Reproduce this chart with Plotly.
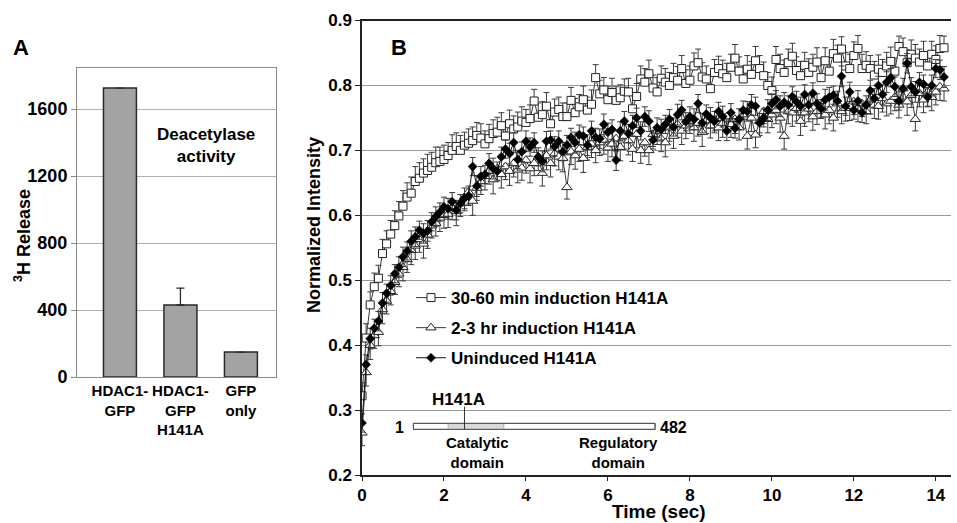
import plotly.graph_objects as go

# ---------------- Panel A data ----------------
bar_categories = ["HDAC1-<br>GFP", "HDAC1-<br>GFP<br>H141A", "GFP<br>only"]
bar_values = [1725, 430, 149]
bar_errors = [0, 101, 0]

# ---------------- Panel B data ----------------
frame_interval = 0.1  # seconds between frames

induced_30_60 = [
    .322, .411, .462, .490, .503, .541, .556, .571, .584, .599,
    .614, .628, .634, .652, .657, .665, .669, .674, .681, .683,
    .686, .692, .700, .706, .700, .708, .711, .715, .723, .719,
    .710, .718, .726, .728, .738, .722, .741, .733, .736, .745,
    .743, .749, .776, .751, .755, .768, .741, .759, .763, .752,
    .752, .777, .758, .767, .778, .762, .771, .812, .787, .793,
    .778, .789, .777, .781, .791, .790, .764, .783, .810, .805,
    .818, .796, .790, .811, .805, .800, .812, .808, .826, .803,
    .808, .830, .835, .813, .810, .795, .820, .826, .818, .812,
    .828, .842, .822, .810, .825, .817, .838, .826, .815, .800,
    .792, .840, .826, .820, .835, .845, .823, .815, .831, .820,
    .828, .836, .812, .838, .822, .849, .842, .856, .830, .826,
    .846, .857, .826, .831, .826, .816, .825, .820, .830, .837,
    .822, .860, .852, .835, .848, .842, .836, .846, .830, .848,
    .840, .857, .858]
err_30_60 = [
    .020, .022, .020, .021, .020, .022, .020, .021, .023, .022,
    .024, .022, .025, .023, .024, .022, .025, .023, .024, .022,
    .022, .020, .024, .021, .023, .020, .022, .021, .020, .022,
    .020, .022, .021, .023, .020, .022, .021, .020, .023, .022,
    .020, .021, .018, .022, .020, .021, .022, .020, .019, .021,
    .021, .020, .022, .019, .021, .020, .022, .020, .021, .019,
    .020, .022, .021, .020, .019, .021, .022, .020, .020, .021,
    .021, .020, .022, .019, .021, .020, .022, .021, .020, .021,
    .022, .020, .021, .022, .020, .021, .020, .019, .021, .022,
    .020, .021, .022, .020, .021, .020, .022, .020, .021, .020,
    .021, .020, .022, .019, .021, .020, .021, .022, .020, .021,
    .020, .022, .021, .020, .021, .022, .020, .019, .021, .022,
    .021, .020, .022, .021, .020, .021, .022, .020, .021, .022,
    .020, .016, .021, .020, .022, .021, .020, .022, .021, .020,
    .021, .020, .018]

induced_2_3 = [
    .265, .358, .400, .415, .420, .455, .468, .483, .497, .510,
    .520, .532, .546, .553, .563, .556, .570, .584, .588, .596,
    .600, .602, .612, .606, .618, .628, .636, .622, .642, .652,
    .660, .668, .655, .672, .663, .675, .668, .680, .670, .673,
    .685, .672, .680, .690, .665, .692, .680, .695, .690, .688,
    .643, .698, .692, .702, .688, .705, .710, .700, .712, .716,
    .704, .710, .718, .705, .722, .715, .702, .725, .700, .712,
    .700, .725, .730, .718, .712, .735, .722, .740, .730, .738,
    .745, .735, .742, .728, .746, .738, .748, .735, .742, .752,
    .740, .748, .735, .755, .722, .750, .724, .745, .760, .748,
    .755, .762, .750, .722, .760, .758, .765, .745, .758, .764,
    .752, .760, .768, .755, .762, .750, .772, .760, .765, .768,
    .775, .765, .772, .760, .778, .770, .768, .780, .772, .776,
    .782, .770, .795, .775, .785, .748, .788, .778, .790, .782,
    .790, .798, .795]
err_2_3 = [
    .020, .021, .022, .020, .021, .022, .020, .021, .019, .020,
    .021, .020, .022, .021, .020, .022, .021, .019, .020, .021,
    .020, .021, .019, .022, .020, .021, .020, .022, .019, .020,
    .021, .020, .022, .019, .021, .020, .022, .021, .020, .019,
    .020, .022, .019, .021, .020, .022, .021, .019, .020, .021,
    .018, .020, .021, .019, .022, .020, .021, .019, .020, .022,
    .021, .020, .019, .021, .020, .022, .019, .021, .020, .021,
    .022, .019, .021, .020, .022, .021, .019, .020, .021, .020,
    .019, .021, .020, .022, .020, .019, .021, .020, .022, .021,
    .020, .022, .019, .021, .020, .021, .020, .022, .019, .021,
    .020, .021, .022, .020, .019, .021, .020, .022, .021, .020,
    .021, .020, .019, .022, .021, .020, .021, .019, .020, .022,
    .020, .021, .020, .019, .022, .021, .020, .021, .019, .020,
    .021, .020, .022, .021, .019, .018, .021, .020, .022, .021,
    .020, .021, .019]

uninduced = [
    .280, .370, .410, .426, .437, .465, .480, .492, .510, .520,
    .536, .545, .560, .567, .577, .572, .576, .590, .598, .605,
    .613, .610, .621, .608, .618, .626, .630, .675, .645, .660,
    .663, .680, .672, .668, .690, .702, .695, .712, .686, .698,
    .714, .705, .712, .690, .683, .714, .716, .706, .714, .698,
    .708, .720, .712, .724, .722, .708, .730, .720, .718, .740,
    .728, .732, .685, .730, .745, .726, .738, .750, .730, .752,
    .745, .716, .735, .732, .740, .748, .736, .755, .762, .744,
    .752, .748, .772, .742, .756, .750, .745, .760, .752, .730,
    .758, .734, .748, .762, .760, .770, .768, .742, .750, .762,
    .772, .778, .768, .774, .770, .783, .775, .768, .786, .770,
    .788, .772, .764, .778, .782, .785, .776, .814, .768, .790,
    .762, .776, .758, .770, .792, .780, .800, .786, .805, .812,
    .798, .776, .795, .834, .798, .790, .805, .802, .782, .800,
    .826, .824, .813]
err_uninduced = [
    .014, .015, .016, .014, .015, .016, .014, .015, .014, .016,
    .015, .014, .016, .015, .014, .015, .016, .014, .015, .014,
    .015, .016, .014, .015, .014, .016, .015, .014, .016, .015,
    .014, .015, .016, .014, .015, .014, .016, .015, .014, .015,
    .016, .014, .015, .014, .016, .015, .014, .015, .016, .014,
    .015, .014, .016, .015, .014, .016, .015, .014, .015, .016,
    .014, .015, .016, .014, .015, .014, .016, .015, .014, .015,
    .016, .014, .015, .016, .014, .015, .014, .016, .015, .014,
    .015, .016, .014, .015, .014, .016, .015, .014, .016, .015,
    .014, .015, .016, .014, .015, .016, .014, .015, .014, .016,
    .015, .014, .016, .015, .014, .015, .016, .014, .015, .014,
    .016, .015, .014, .016, .015, .014, .015, .016, .014, .015,
    .014, .016, .015, .014, .016, .015, .014, .015, .016, .014,
    .015, .014, .016, .015, .014, .016, .015, .014, .015, .016,
    .014, .015, .016]

series_names = ["30-60 min induction H141A", "2-3 hr induction H141A", "Uninduced H141A"]
x_ticks_b = [0, 2, 4, 6, 8, 10, 12, 14]
y_ticks_b = [0.2, 0.3, 0.4, 0.5, 0.6, 0.7, 0.8, 0.9]
y_ticks_a = [0, 400, 800, 1200, 1600]


def times(values):
    return [round(i * frame_interval, 2) for i in range(len(values))]


FONT = "Liberation Sans, Arial, Helvetica, sans-serif"
W, H = 957, 523


def px(x):
    return x / W


def py(y):
    return 1 - y / H


fig = go.Figure()

# ---- Panel A bars ----
fig.add_trace(go.Bar(
    x=bar_categories, y=bar_values, width=0.545,
    marker=dict(color="#a3a3a3", line=dict(color="#2a2a2a", width=1.5)),
    error_y=dict(type="data", symmetric=False, array=bar_errors, arrayminus=[0, 0, 0],
                 color="#2a2a2a", thickness=1.3, width=4),
    xaxis="x", yaxis="y", showlegend=False))

# ---- Panel B series ----
line_col = "#3a3a3a"
err_col = "#3a3a3a"


def zeros(v):
    return [0] * len(v)


fig.add_trace(go.Scatter(
    x=times(induced_30_60), y=induced_30_60, mode="lines+markers", name=series_names[0],
    line=dict(color=line_col, width=1),
    marker=dict(symbol="square", size=8, color="white", line=dict(color="#222", width=1)),
    error_y=dict(type="data", symmetric=False, array=err_30_60, arrayminus=zeros(err_30_60),
                 color=err_col, thickness=1, width=3),
    xaxis="x2", yaxis="y2", legendgroup="a"))

fig.add_trace(go.Scatter(
    x=times(induced_2_3), y=induced_2_3, mode="lines+markers", name=series_names[1],
    line=dict(color=line_col, width=1),
    marker=dict(symbol="triangle-up", size=9, color="white", line=dict(color="#222", width=1)),
    error_y=dict(type="data", symmetric=False, array=zeros(err_2_3), arrayminus=err_2_3,
                 color=err_col, thickness=1, width=3),
    xaxis="x2", yaxis="y2", legendgroup="b"))

fig.add_trace(go.Scatter(
    x=times(uninduced), y=uninduced, mode="lines+markers", name=series_names[2],
    line=dict(color="#111", width=1),
    marker=dict(symbol="diamond", size=7, color="black", line=dict(color="black", width=0.5)),
    error_y=dict(type="data", symmetric=True, array=err_uninduced,
                 color=err_col, thickness=1, width=3),
    xaxis="x2", yaxis="y2", legendgroup="c"))

# ---- shapes: inset domain diagram (panel B) ----
shapes = [
    dict(type="rect", xref="x2", yref="y2", x0=1.254, x1=7.15, y0=0.2703, y1=0.2795,
         fillcolor="white", line=dict(color="#555", width=1)),
    dict(type="rect", xref="x2", yref="y2", x0=2.10, x1=3.46, y0=0.2703, y1=0.2795,
         fillcolor="#d9d9d9", line=dict(color="#888", width=0.6)),
    dict(type="rect", xref="x2", yref="y2", x0=1.254, x1=7.15, y0=0.2703, y1=0.2795,
         fillcolor="rgba(0,0,0,0)", line=dict(color="#555", width=1)),
    dict(type="line", xref="x2", yref="y2", x0=2.50, x1=2.50, y0=0.2703, y1=0.3051,
         line=dict(color="#333", width=1)),
]


def bold(s):
    return dict(family=FONT, size=s, color="black", weight="bold")


annotations = [
    dict(text="A", x=px(21), y=py(48), font=bold(22)),
    dict(text="B", x=px(399), y=py(48), font=bold(22)),
    dict(text="Deacetylase<br>activity", x=px(206), y=py(145), font=bold(17)),
    dict(text="<sup>3</sup>H Release", x=px(22), y=py(236), textangle=-90, font=bold(18)),
    dict(text="Normalized Intensity", x=px(314), y=py(225), textangle=-90, font=bold(18)),
    dict(text="H141A", x=px(458), y=py(399), font=bold(17)),
    dict(text="1", x=px(399), y=py(427), font=bold(16)),
    dict(text="482", x=px(673), y=py(427), font=bold(16)),
    dict(text="Catalytic<br>domain", x=px(477), y=py(452), font=bold(15)),
    dict(text="Regulatory<br>domain", x=px(618), y=py(452), font=bold(15)),
]
for a in annotations:
    a.update(xref="paper", yref="paper", showarrow=False, xanchor="center", yanchor="middle")
annotations.append(dict(text="Time (sec)", x=px(659), y=0, xref="paper", yref="paper",
                        showarrow=False, xanchor="center", yanchor="bottom",
                        font=bold(19), borderpad=0))

fig.update_layout(
    template="none",
    width=W, height=H, margin=dict(l=0, r=0, t=0, b=0, pad=0, autoexpand=False),
    paper_bgcolor="white", plot_bgcolor="white",
    font=dict(family=FONT, color="black"),
    shapes=shapes, annotations=annotations,
    xaxis=dict(domain=[px(77), px(276)], range=[-0.71, 2.58], type="category",
               showline=True, linecolor="#8a8a8a", linewidth=1, mirror=True,
               ticks="", tickfont=bold(15), showgrid=False, automargin=False),
    yaxis=dict(domain=[py(377), py(68)], range=[0, 1845], tickvals=y_ticks_a,
               showline=True, linecolor="#8a8a8a", linewidth=1, mirror=True,
               ticks="outside", ticklen=5, tickcolor="#8a8a8a",
               showgrid=True, gridcolor="#b0b0b0", gridwidth=1,
               tickfont=bold(18), zeroline=False, automargin=False),
    xaxis2=dict(domain=[px(362), px(951)], range=[0, 14.37], tickvals=x_ticks_b,
                showline=True, linecolor="#222", linewidth=1.5, mirror=True,
                ticks="outside", ticklen=4, tickcolor="#222",
                showgrid=False, zeroline=False, tickfont=bold(17), anchor="y2",
                automargin=False),
    yaxis2=dict(domain=[py(475), py(20.5)], range=[0.2, 0.9], tickvals=y_ticks_b,
                tickformat=".1f", showline=True, linecolor="#222", linewidth=1.5,
                ticks="outside", ticklen=5, tickcolor="#222",
                showgrid=True, gridcolor="#9a9a9a", gridwidth=1, zeroline=False,
                tickfont=bold(17), anchor="x2", automargin=False),
    legend=dict(x=px(411), y=py(280), xanchor="left", yanchor="top",
                bgcolor="rgba(0,0,0,0)", borderwidth=0, font=bold(17),
                tracegroupgap=5),
    showlegend=True,
)

fig.write_html("out.html", config={"displayModeBar": False},
               post_script="document.body.style.margin='0';document.body.style.overflow='hidden';")
